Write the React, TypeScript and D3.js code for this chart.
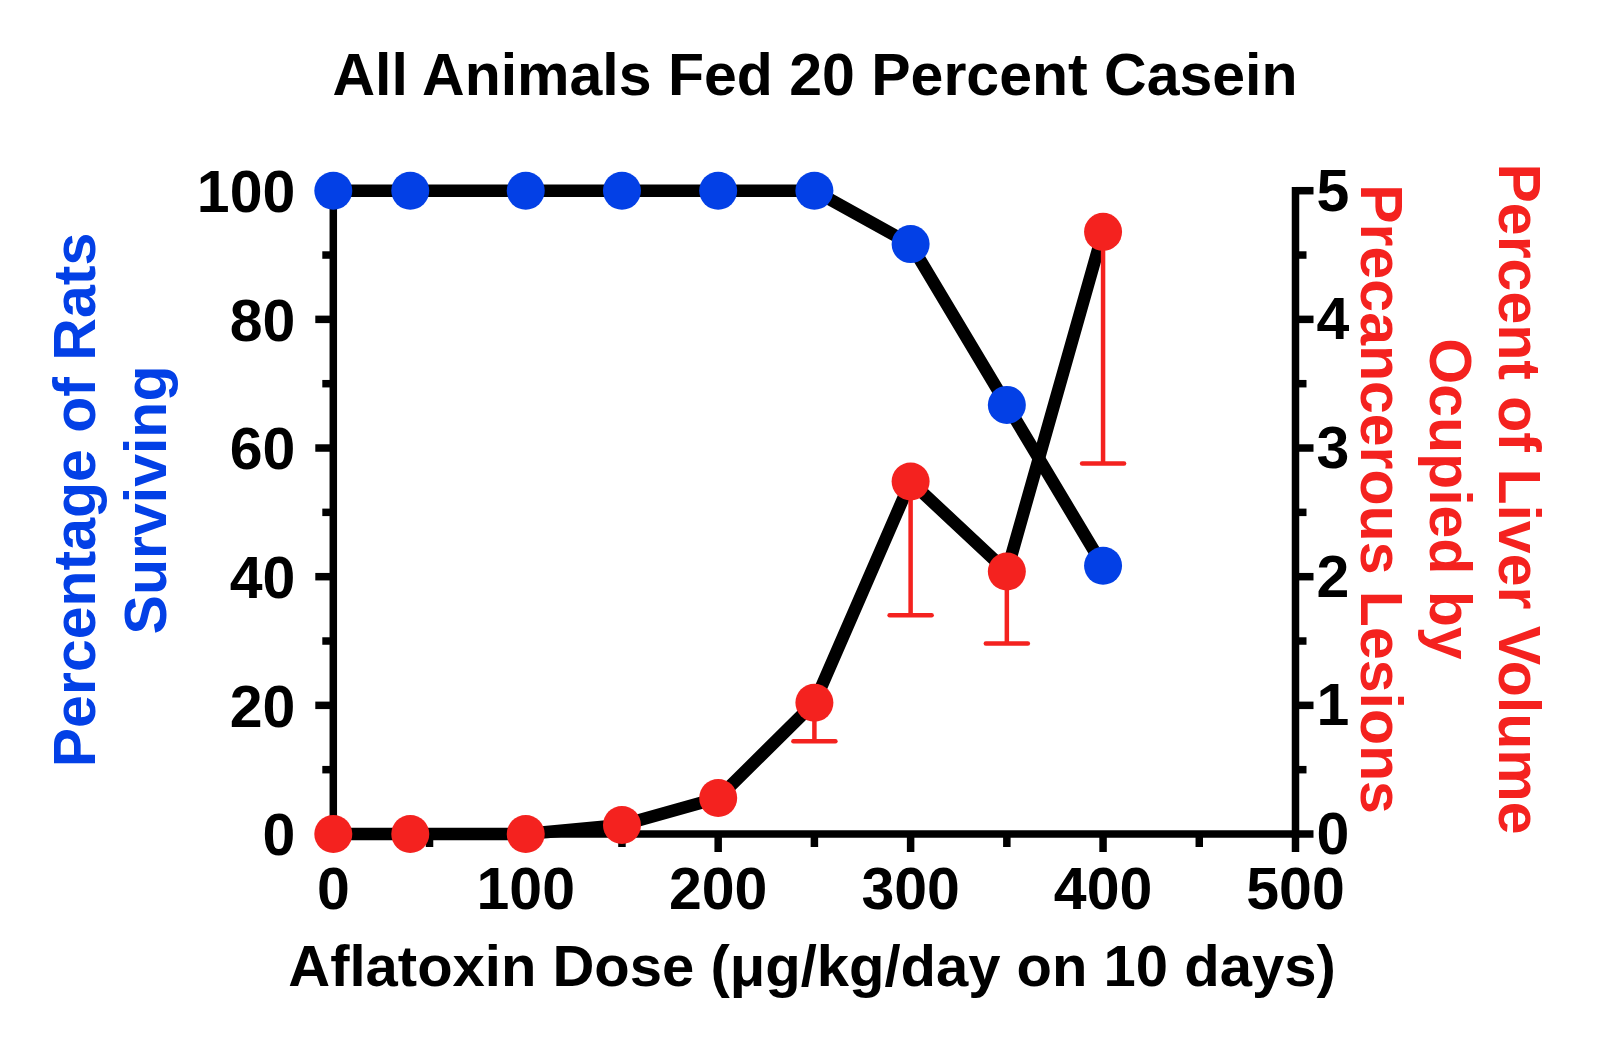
import React from "react";
import * as d3 from "d3";

const doses = [0, 40, 100, 150, 200, 250, 300, 350, 400];
const survival = [100, 100, 100, 100, 100, 100, 91.7, 66.7, 41.7];
const lesion = [0, 0, 0, 0.07, 0.28, 1.02, 2.74, 2.04, 4.68];
const lesionLower: (number | null)[] = [null, null, null, null, null, 0.72, 1.7, 1.48, 2.88];

const xMajor = [0, 100, 200, 300, 400, 500];
const xMinor = [50, 150, 250, 350, 450];
const yLMajor = [0, 20, 40, 60, 80, 100];
const yLMinor = [10, 30, 50, 70, 90];
const yRMajor = [0, 1, 2, 3, 4, 5];
const yRMinor = [0.5, 1.5, 2.5, 3.5, 4.5];

const title = "All Animals Fed 20 Percent Casein";
const xLabel = "Aflatoxin Dose (\u03bcg/kg/day on 10 days)";
const yLeftLabel = ["Percentage of Rats", "Surviving"];
const yRightLabel = ["Percent of Liver Volume", "Ocupied by", "Precancerous Lesions"];

const BLUE = "#0340e6";
const RED = "#f4221f";
const FONT = "'Liberation Sans', Arial, Helvetica, sans-serif";

export default function App() {
  const W = 1600;
  const H = 1046;
  const x = d3.scaleLinear().domain([0, 500]).range([333.3, 1295.5]);
  const yL = d3.scaleLinear().domain([0, 100]).range([834, 190.7]);
  const yR = d3.scaleLinear().domain([0, 5]).range([834, 190.7]);

  const survPts = doses.map((d, i) => [d, survival[i]] as [number, number]);
  const lesPts = doses.map((d, i) => [d, lesion[i]] as [number, number]);

  const lineL = d3
    .line<[number, number]>()
    .x((d) => x(d[0]))
    .y((d) => yL(d[1]));
  const lineR = d3
    .line<[number, number]>()
    .x((d) => x(d[0]))
    .y((d) => yR(d[1]));

  const x0 = x(0);
  const x1 = x(500);
  const yb = yL(0);
  const yt = yL(100);
  const major = 18;
  const minor = 11;
  const axisW = 7.5;
  const fs = 59;

  return (
    <svg
      width={W}
      height={H}
      viewBox={`0 0 ${W} ${H}`}
      style={{ position: "absolute", left: 0, top: 0, display: "block", background: "#fff" }}
    >
      <rect x={0} y={0} width={W} height={H} fill="#fff" />
      {/* Title */}
      <text x={815} y={95} textAnchor="middle" fontFamily={FONT} fontWeight="bold" fontSize={fs} fill="#000">
        {title}
      </text>

      {/* Axes */}
      <g stroke="#000" strokeWidth={axisW} fill="none">
        <line x1={x0} y1={yb + axisW / 2} x2={x0} y2={yt - axisW / 2} />
        <line x1={x1} y1={yb + axisW / 2} x2={x1} y2={yt - axisW / 2} />
        <line x1={x0 - axisW / 2} y1={yb} x2={x1 + axisW / 2} y2={yb} />
        {yLMajor.map((v) => (
          <line key={"lm" + v} x1={x0} x2={x0 - major} y1={yL(v)} y2={yL(v)} />
        ))}
        {yLMinor.map((v) => (
          <line key={"ln" + v} x1={x0} x2={x0 - minor} y1={yL(v)} y2={yL(v)} />
        ))}
        {yRMajor.map((v) => (
          <line key={"rm" + v} x1={x1} x2={x1 + major} y1={yR(v)} y2={yR(v)} />
        ))}
        {yRMinor.map((v) => (
          <line key={"rn" + v} x1={x1} x2={x1 + minor} y1={yR(v)} y2={yR(v)} />
        ))}
        {xMajor.map((v) => (
          <line key={"xm" + v} x1={x(v)} x2={x(v)} y1={yb} y2={yb + major} />
        ))}
        {xMinor.map((v) => (
          <line key={"xn" + v} x1={x(v)} x2={x(v)} y1={yb} y2={yb + minor + 2} />
        ))}
      </g>

      {/* Tick labels */}
      <g fontFamily={FONT} fontWeight="bold" fontSize={fs} fill="#000">
        {yLMajor.map((v) => (
          <text key={"lt" + v} x={x0 - 38} y={yL(v)} dy="0.36em" textAnchor="end">
            {v}
          </text>
        ))}
        {yRMajor.map((v) => (
          <text key={"rt" + v} x={x1 + 21} y={yR(v)} dy="0.34em" textAnchor="start">
            {v}
          </text>
        ))}
        {xMajor.map((v) => (
          <text key={"xt" + v} x={x(v)} y={909} textAnchor="middle">
            {v}
          </text>
        ))}
      </g>

      {/* Axis labels */}
      <text x={812} y={986} textAnchor="middle" fontFamily={FONT} fontWeight="bold" fontSize={58} fill="#000">
        {xLabel}
      </text>
      {yLeftLabel.map((t, i) => (
        <text
          key={"yl" + i}
          transform={`translate(${95 + i * 71},500) rotate(-90)`}
          textAnchor="middle"
          fontFamily={FONT}
          fontWeight="bold"
          fontSize={fs}
          fill={BLUE}
        >
          {t}
        </text>
      ))}
      {yRightLabel.map((t, i) => (
        <text
          key={"yr" + i}
          transform={`translate(${1499 - i * 69},499) rotate(90)`}
          textAnchor="middle"
          fontFamily={FONT}
          fontWeight="bold"
          fontSize={fs}
          fill={RED}
        >
          {t}
        </text>
      ))}

      {/* Data lines */}
      <path d={lineL(survPts) || ""} fill="none" stroke="#000" strokeWidth={12.5} strokeLinejoin="round" />
      <path d={lineR(lesPts) || ""} fill="none" stroke="#000" strokeWidth={12.5} strokeLinejoin="round" />

      {/* Error bars */}
      <g stroke={RED} strokeWidth={4.5}>
        {doses.map((d, i) => {
          const lo = lesionLower[i];
          if (lo == null) return null;
          const cx = x(d);
          return (
            <g key={"eb" + i}>
              <line x1={cx} x2={cx} y1={yR(lesion[i])} y2={yR(lo)} />
              <line x1={cx - 21} x2={cx + 21} y1={yR(lo)} y2={yR(lo)} strokeLinecap="round" />
            </g>
          );
        })}
      </g>

      {/* Points */}
      {survPts.map((p, i) => (
        <circle key={"bp" + i} cx={x(p[0])} cy={yL(p[1])} r={19} fill={BLUE} />
      ))}
      {lesPts.map((p, i) => (
        <circle key={"rp" + i} cx={x(p[0])} cy={yR(p[1])} r={19} fill={RED} />
      ))}
    </svg>
  );
}
